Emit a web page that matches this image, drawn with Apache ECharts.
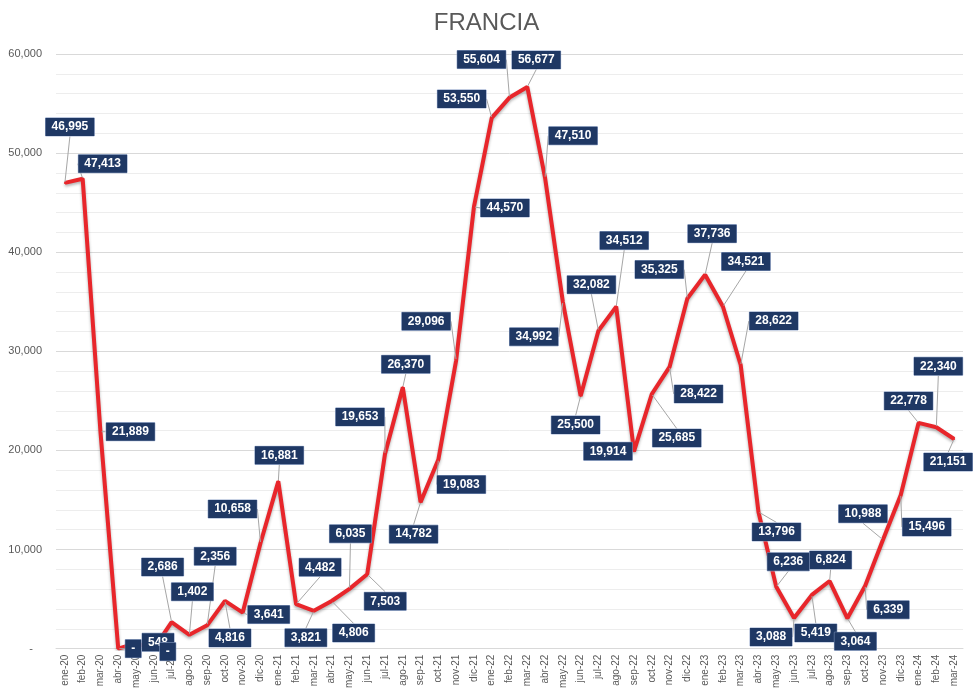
<!DOCTYPE html>
<html>
<head>
<meta charset="utf-8">
<script src="https://cdn.jsdelivr.net/npm/echarts@6/dist/echarts.min.js"></script>
<style>
html,body{margin:0;padding:0;background:#fff;}
#chart{width:973px;height:691px;}
</style>
</head>
<body>
<div id="chart"></div>
<script>
var titleText = 'FRANCIA';
var categories = [
  'ene-20','feb-20','mar-20','abr-20','may-20','jun-20','jul-20','ago-20','sep-20','oct-20','nov-20','dic-20',
  'ene-21','feb-21','mar-21','abr-21','may-21','jun-21','jul-21','ago-21','sep-21','oct-21','nov-21','dic-21',
  'ene-22','feb-22','mar-22','abr-22','may-22','jun-22','jul-22','ago-22','sep-22','oct-22','nov-22','dic-22',
  'ene-23','feb-23','mar-23','abr-23','may-23','jun-23','jul-23','ago-23','sep-23','oct-23','nov-23','dic-23',
  'ene-24','feb-24','mar-24'
];
var values = [
  46995, 47413, 21889, 0, 548, 0, 2686, 1402, 2356, 4816, 3641, 10658,
  16881, 4482, 3821, 4806, 6035, 7503, 19653, 26370, 14782, 19083, 29096, 44570,
  53550, 55604, 56677, 47510, 34992, 25500, 32082, 34512, 19914, 25685, 28422, 35325,
  37736, 34521, 28622, 13796, 6236, 3088, 5419, 6824, 3064, 6339, 10988, 15496,
  22778, 22340, 21151
];
var yTicks = [0, 10000, 20000, 30000, 40000, 50000, 60000];

// label placement offsets (dx, dy) from each point, in pixels
var labelOffsets = [
  [5,-56],[20,-15],[30,0],[15,0],[22,-1],[14,3],[-9,-55],[3,-43],[8,-69],[5,37],[26,2],[-28,-34],
  [1,-26],[24,-37],[-8,27],[22,32],[1,-55],[18,27],[-25,-37],[3,-23],[-7,32],[23,25],[-30,-39],[31,1],
  [-30,-19],[-28,-38],[9,-27],[28,-42],[-29,35],[-5,29],[-7,-46],[8,-66],[-26,0],[25,44],[29,27],[-28,-29],
  [7,-41],[23,-45],[33,-44],[18,20],[12,-25],[-23,19],[4,38],[1,-21],[8,23],[23,24],[-20,-26],[26,32],
  [-10,-22],[2,-61],[-6,23]
];

function fmt(v){ return v === 0 ? '-' : v.toLocaleString('en-US'); }

var chart = echarts.init(document.getElementById('chart'));
chart.setOption({
  animation: false,
  backgroundColor: '#ffffff',
  title: {
    text: titleText,
    left: 'center',
    top: 6,
    textStyle: {
      fontFamily: "'Liberation Sans Narrow', 'Liberation Sans', sans-serif",
      fontSize: 24, fontWeight: 'normal', color: '#595959'
    }
  },
  grid: { left: 56, right: 10, top: 54, bottom: 42 },
  xAxis: {
    type: 'category',
    data: categories,
    boundaryGap: true,
    axisLine: { lineStyle: { color: '#D9D9D9', width: 1 } },
    axisTick: { show: false },
    axisLabel: {
      rotate: 90, interval: 0, margin: 6,
      fontFamily: "'Liberation Sans', sans-serif", fontSize: 10, color: '#595959'
    }
  },
  yAxis: {
    type: 'value',
    min: yTicks[0], max: yTicks[yTicks.length-1], interval: 10000,
    axisLine: { show: false },
    axisTick: { show: false },
    splitLine: { lineStyle: { color: '#D9D9D9', width: 1 } },
    minorTick: { show: false, splitNumber: 5 },
    minorSplitLine: { show: true, lineStyle: { color: '#EDEDED', width: 1 } },
    axisLabel: {
      margin: 14,
      fontFamily: "'Liberation Sans', sans-serif", fontSize: 11, color: '#595959',
      formatter: function(v){ return v === 0 ? '-   ' : v.toLocaleString('en-US'); }
    }
  },
  series: [{
    type: 'line',
    data: values,
    symbol: 'circle',
    symbolSize: 2,
    showSymbol: true,
    itemStyle: { color: '#E8262B' },
    lineStyle: {
      color: '#E8262B', width: 4,
      shadowColor: 'rgba(0,0,0,0.3)', shadowBlur: 3, shadowOffsetY: 2
    },
    label: {
      show: true,
      position: 'top',
      formatter: function(p){ return fmt(p.value); },
      fontFamily: "'Liberation Sans', sans-serif",
      fontSize: 12, fontWeight: 'bold', color: '#ffffff',
      backgroundColor: '#1F3864',
      borderColor: '#8EA2C8', borderWidth: 0.5,
      padding: [3, 6, 3, 6]
    },
    labelLine: {
      show: true,
      lineStyle: { color: '#A6A6A6', width: 1 }
    },
    labelLayout: function(p){
      var o = labelOffsets[p.dataIndex] || [0,-20];
      var cx = p.rect.x + p.rect.width/2;
      var cy = p.rect.y + p.rect.height/2;
      return { x: cx + o[0], y: cy + o[1], align: 'center', verticalAlign: 'middle' };
    },
    z: 3
  }]
});
</script>
</body>
</html>
